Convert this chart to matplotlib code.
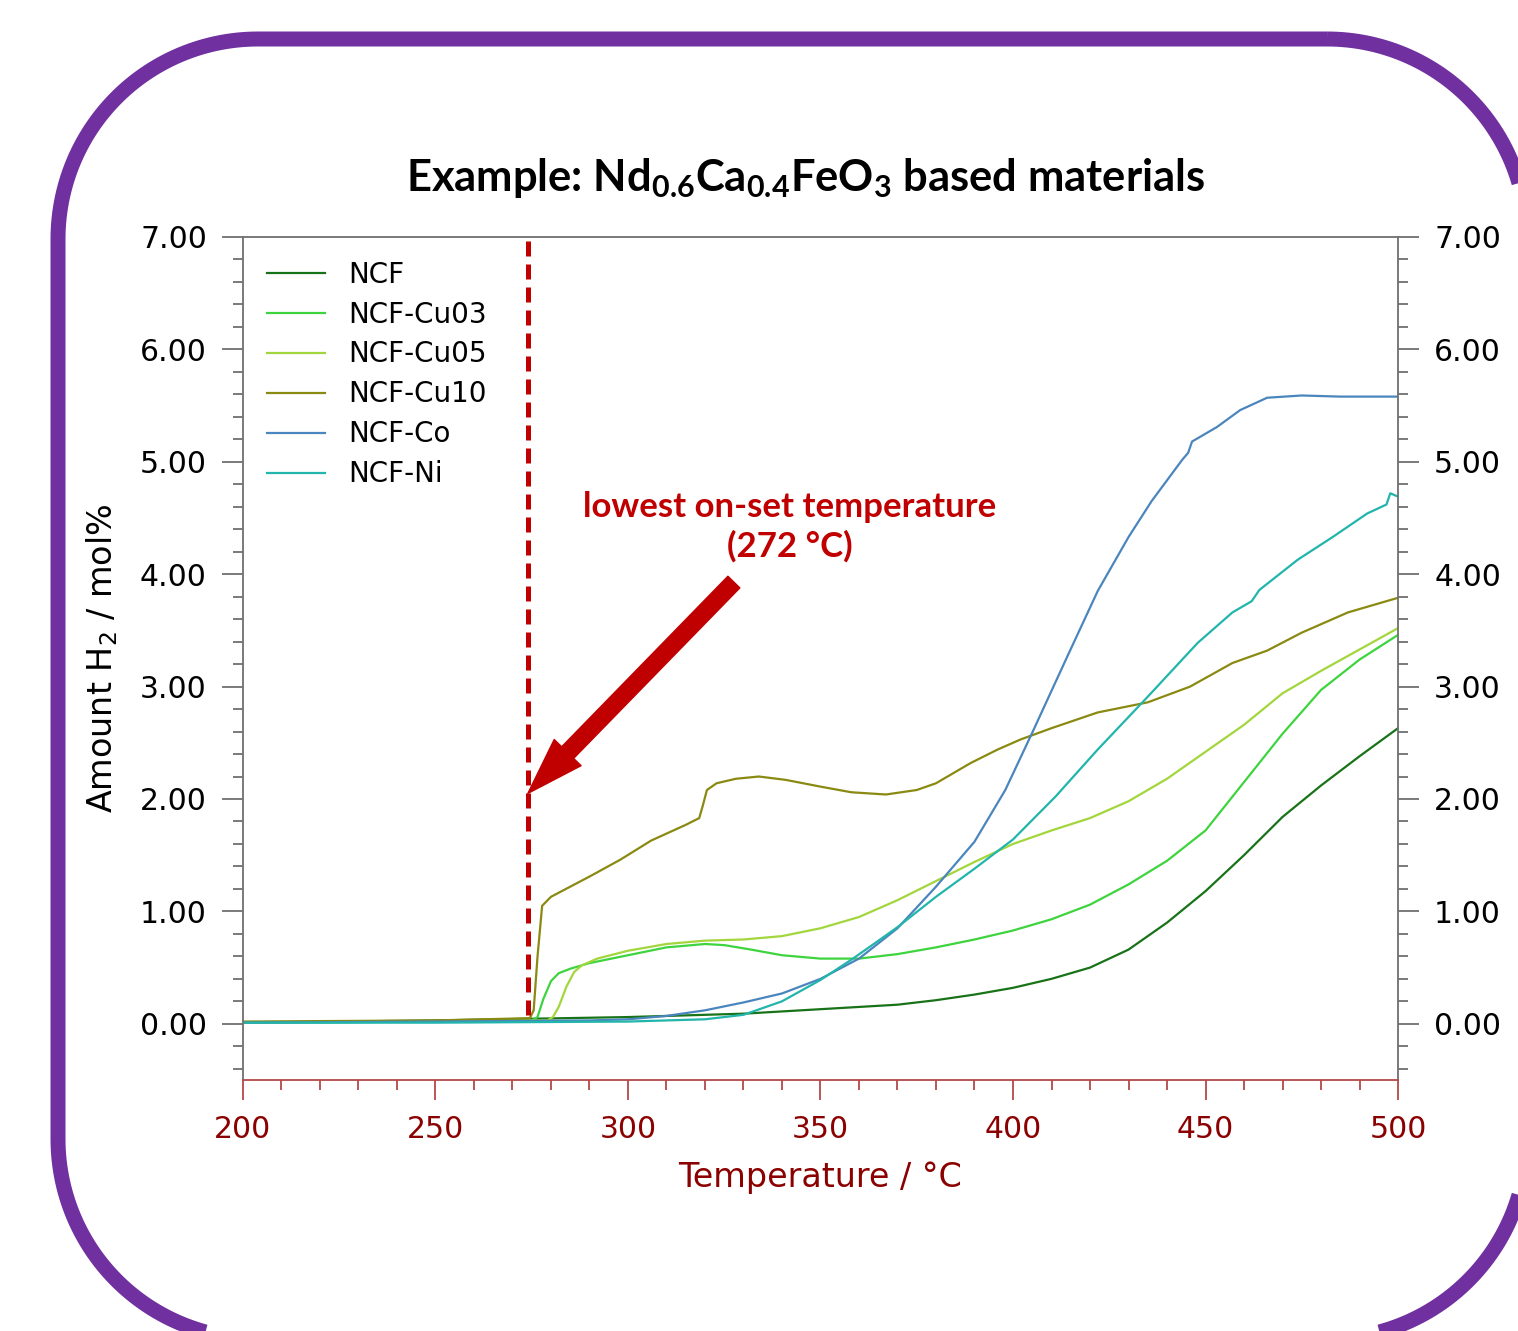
"""H2 evolution vs temperature for Nd0.6Ca0.4FeO3 based materials"""

import matplotlib
matplotlib.use('Agg')
import matplotlib.pyplot as plt
import numpy as np
from matplotlib.patches import Polygon
from matplotlib.ticker import MultipleLocator, FormatStrFormatter

# ---- data ----
ncf_t = [200, 250, 300, 330, 350, 370, 380, 390, 400, 410, 420, 430, 440,
         450, 460, 470, 480, 490, 500]
ncf_h2 = [0.01, 0.03, 0.06, 0.09, 0.13, 0.17, 0.21, 0.26, 0.32, 0.40, 0.50,
          0.66, 0.90, 1.18, 1.50, 1.84, 2.12, 2.38, 2.63]

cu03_t = [200, 250, 275, 276.5, 278, 280, 282, 285, 290, 300, 310, 320, 325,
          332, 340, 350, 360, 370, 380, 390, 400, 410, 420, 430, 440, 450,
          460, 470, 480, 490, 500]
cu03_h2 = [0.01, 0.02, 0.03, 0.06, 0.22, 0.38, 0.45, 0.49, 0.54, 0.61, 0.68,
           0.71, 0.70, 0.66, 0.61, 0.58, 0.58, 0.62, 0.68, 0.75, 0.83, 0.93,
           1.06, 1.24, 1.45, 1.72, 2.15, 2.58, 2.97, 3.24, 3.46]

cu05_t = [200, 250, 279, 280.5, 282, 284, 286, 288, 292, 300, 310, 320, 330,
          340, 350, 360, 370, 380, 390, 400, 410, 420, 430, 440, 450, 460,
          470, 480, 490, 500]
cu05_h2 = [0.01, 0.02, 0.03, 0.06, 0.15, 0.33, 0.46, 0.52, 0.58, 0.65, 0.71,
           0.74, 0.75, 0.78, 0.85, 0.95, 1.10, 1.27, 1.44, 1.60, 1.72, 1.83,
           1.98, 2.18, 2.42, 2.66, 2.94, 3.14, 3.33, 3.52]

cu10_t = [200, 250, 274.5, 275.5, 276.5, 277.7, 280, 285, 290, 298, 306, 315,
          318.5, 319.5, 320.5, 323, 328, 334, 341, 350, 358, 367, 375, 380,
          389, 396, 402, 410, 422, 435, 446, 457, 466, 475, 487, 500]
cu10_h2 = [0.02, 0.03, 0.05, 0.12, 0.60, 1.05, 1.13, 1.22, 1.31, 1.46, 1.63,
           1.77, 1.83, 1.95, 2.08, 2.14, 2.18, 2.20, 2.17, 2.11, 2.06, 2.04,
           2.08, 2.14, 2.32, 2.44, 2.53, 2.63, 2.77, 2.86, 3.00, 3.21, 3.32,
           3.48, 3.66, 3.79]

co_t = [200, 250, 290, 300, 310, 320, 330, 340, 350, 360, 370, 380, 390, 398,
        405, 414, 422, 430, 436, 444, 445.5, 446.5, 453, 459, 466, 475, 485,
        500]
co_h2 = [0.01, 0.02, 0.03, 0.04, 0.07, 0.12, 0.19, 0.27, 0.40, 0.58, 0.85,
         1.22, 1.62, 2.08, 2.59, 3.26, 3.85, 4.33, 4.65, 5.02, 5.08, 5.18,
         5.31, 5.46, 5.57, 5.59, 5.58, 5.58]

ni_t = [200, 250, 300, 320, 330, 340, 350, 358, 363, 370, 380, 390, 400, 411,
        422, 435, 448, 457, 462, 464, 474, 483, 492, 497, 498, 500]
ni_h2 = [0.01, 0.01, 0.02, 0.04, 0.08, 0.20, 0.39, 0.57, 0.69, 0.86, 1.13,
         1.38, 1.64, 2.02, 2.44, 2.91, 3.39, 3.66, 3.76, 3.86, 4.13, 4.33,
         4.54, 4.62, 4.72, 4.69]

series = [
    ('NCF', ncf_t, ncf_h2, '#187318'),
    ('NCF-Cu03', cu03_t, cu03_h2, '#3ed43e'),
    ('NCF-Cu05', cu05_t, cu05_h2, '#a2d63c'),
    ('NCF-Cu10', cu10_t, cu10_h2, '#8a8a12'),
    ('NCF-Co', co_t, co_h2, '#4a86bd'),
    ('NCF-Ni', ni_t, ni_h2, '#22b5ac'),
]

onset_t = 274
arrow_tip = (274, 2.05)
arrow_tail = (327.5, 3.93)

W, H = 1518, 1331
fig = plt.figure(figsize=(W / 100, H / 100), dpi=100)


def rounded_frame(x0, y0, x1, y1, r, n=60):
    """outline of a rounded rectangle in pixel coords (y down)"""
    pts = []
    corners = [(x1 - r, y0 + r, -90, 0), (x1 - r, y1 - r, 0, 90),
               (x0 + r, y1 - r, 90, 180), (x0 + r, y0 + r, 180, 270)]
    for cx, cy, a0, a1 in corners:
        a = np.radians(np.linspace(a0, a1, n))
        pts.append(np.column_stack([cx + r * np.cos(a), cy + r * np.sin(a)]))
    return np.vstack(pts)


# slide frame
bg = fig.add_axes([0, 0, 1, 1])
bg.set_xlim(0, W)
bg.set_ylim(H, 0)
bg.axis('off')
bg.add_patch(Polygon(rounded_frame(58, 39, 1527, 1339, 200), closed=True,
                     fill=False, ec='#7030a0', lw=10.8, joinstyle='round'))

ax = fig.add_axes([243 / W, 1 - 1080 / H, 1155 / W, 843 / H])
for name, t, h2, col in series:
    ax.plot(t, h2, color=col, lw=1.6, label=name)

ax.set_xlim(200, 500)
ax.set_ylim(-0.5, 7.0)
ax.xaxis.set_major_locator(MultipleLocator(50))
ax.xaxis.set_minor_locator(MultipleLocator(10))
ax.yaxis.set_major_locator(MultipleLocator(1))
ax.yaxis.set_minor_locator(MultipleLocator(0.2))
ax.yaxis.set_major_formatter(FormatStrFormatter('%.2f'))

for side in ['left', 'right', 'top']:
    ax.spines[side].set_color('#707070')
    ax.spines[side].set_linewidth(1.3)
ax.spines['bottom'].set_color('#b54848')
ax.spines['bottom'].set_linewidth(1.3)

ax.tick_params(axis='y', which='both', left=True, right=True,
               labelleft=True, labelright=True, direction='out',
               color='#707070', width=1.3, labelsize=21.5, pad=11)
ax.tick_params(axis='y', which='major', length=15)
ax.tick_params(axis='y', which='minor', length=7.2)
ax.tick_params(axis='x', which='both', direction='out', color='#b54848',
               labelcolor='#8b0000', width=1.3, labelsize=21.5, pad=11)
ax.tick_params(axis='x', which='major', length=14.4)
ax.tick_params(axis='x', which='minor', length=7.2)

ax.set_xlabel('Temperature / °C', fontsize=24, color='#8b0000', labelpad=12)
ax.set_ylabel('Amount H$_2$ / mol%', fontsize=24, labelpad=14)

ax.legend(loc='upper left', frameon=False, fontsize=20, handlelength=2.1,
          handletextpad=0.85, labelspacing=0.43, borderpad=0.4,
          borderaxespad=0.45)

# onset marker and callout
ax.plot([onset_t, onset_t], [0.08, 6.97], color='#c00000', lw=3.6,
        dashes=(3, 1.6))
ax.annotate('', xy=arrow_tip, xytext=arrow_tail,
            arrowprops=dict(arrowstyle='simple,head_length=2.05,'
                                       'head_width=1.35,tail_width=0.6',
                            mutation_scale=20, color='#c00000',
                            shrinkA=0, shrinkB=0))
ax.text(342, 4.42, 'lowest on-set temperature\n(272 °C)', ha='center',
        va='center', fontsize=25, fontweight='bold', family='Lato',
        color='#c00000', linespacing=1.25)

fig.text(805 / W, 1 - 178 / H,
         r'Example: Nd$_{\mathregular{0.6}}$Ca$_{\mathregular{0.4}}$'
         r'FeO$_{\mathregular{3}}$ based materials',
         ha='center', va='center', fontsize=31.3, fontweight='bold',
         family='Lato')

fig.savefig('out.png', dpi=100)
